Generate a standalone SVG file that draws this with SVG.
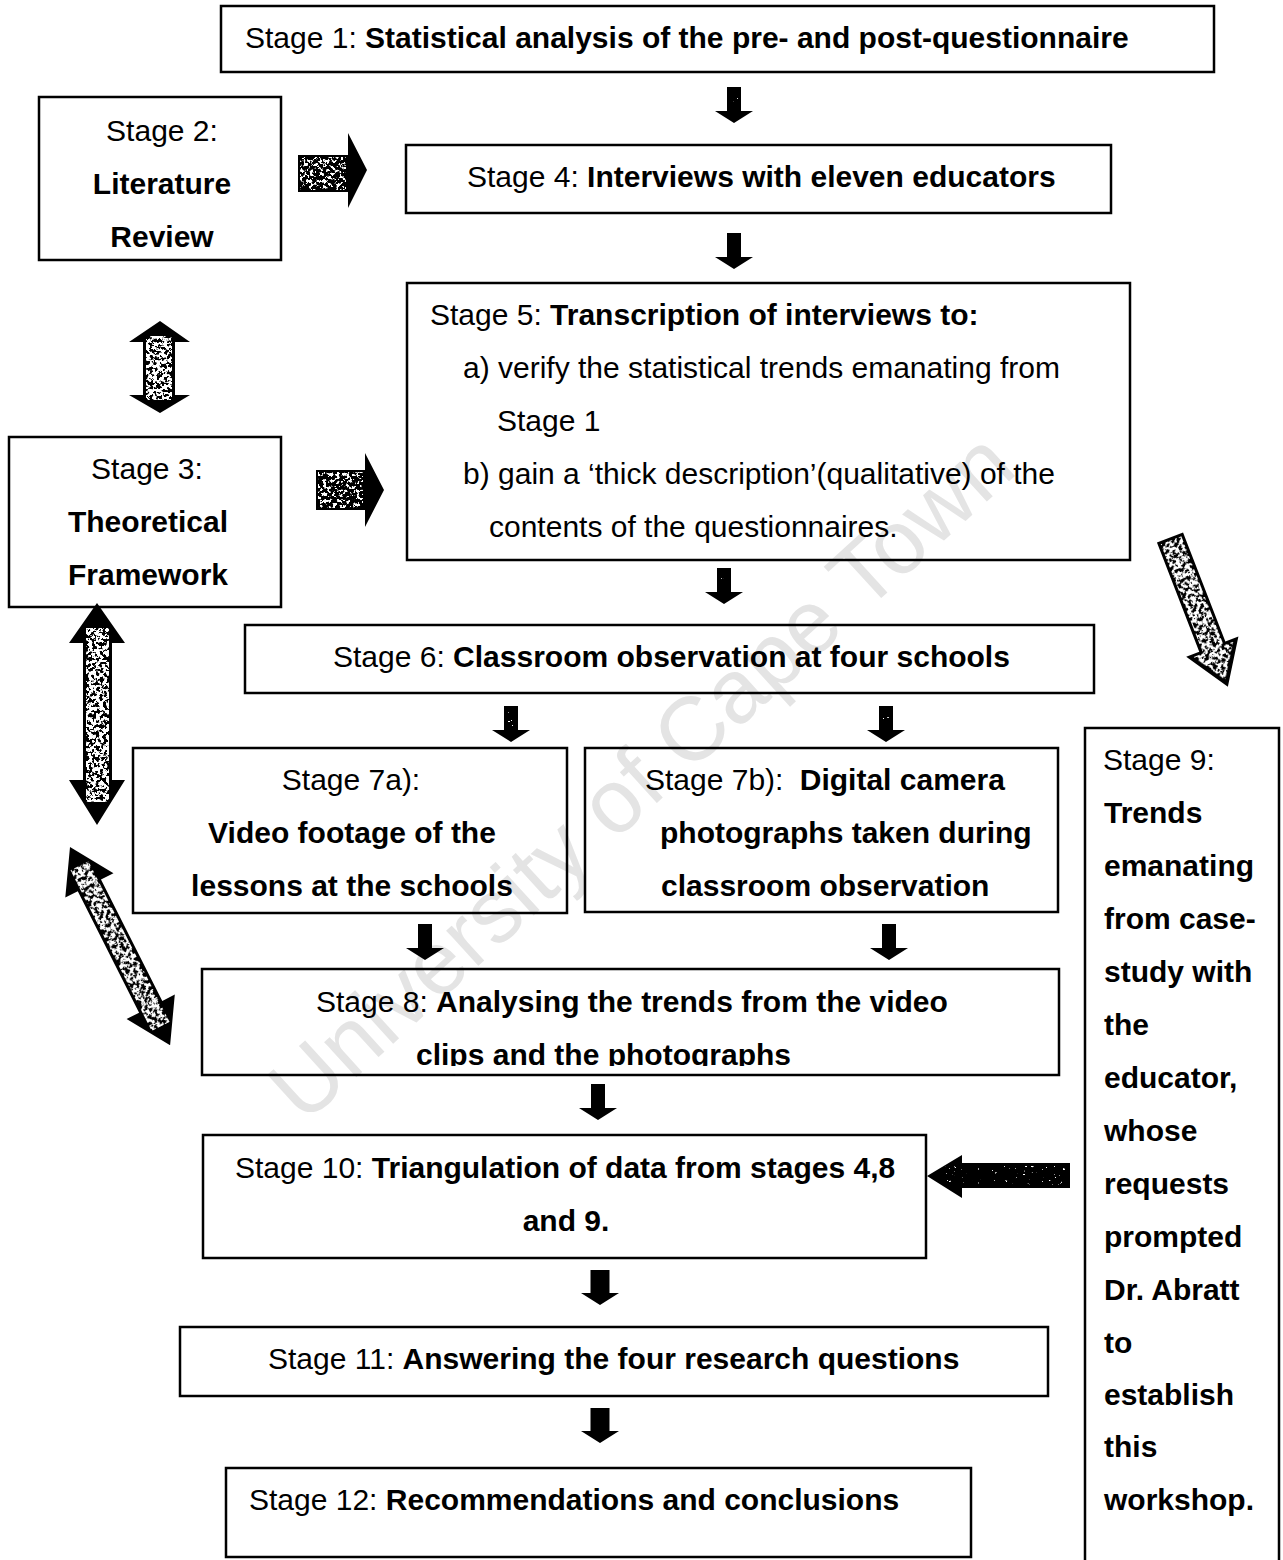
<svg xmlns="http://www.w3.org/2000/svg" xmlns:xlink="http://www.w3.org/1999/xlink" width="1283" height="1560" viewBox="0 0 1283 1560">
  <style>
    .box { fill: none; stroke: #000; stroke-width: 2.5; }
    .t { font-family: "Liberation Sans", Arial, sans-serif; font-size: 30px; fill: #000; }
    .c { text-anchor: middle; }
    .b { font-weight: bold; }
    .arrow { fill: #000; }
    .wm { font-family: "Liberation Sans", Arial, sans-serif; font-size: 90px; fill: #e4e4e4; text-anchor: middle; }
  </style>
  <defs>
    <!-- dense white speckle kept inside an eroded copy of the shape -->
    <filter id="grainLight" x="-10%" y="-10%" width="120%" height="120%">
      <feMorphology in="SourceAlpha" operator="erode" radius="3" result="core"/>
      <feTurbulence type="fractalNoise" baseFrequency="0.28" numOctaves="3" seed="7" result="noise"/>
      <feColorMatrix in="noise" type="matrix" values="0 0 0 0 1  0 0 0 0 1  0 0 0 0 1  16 0 0 0 -7.2" result="spots"/>
      <feComposite in="spots" in2="core" operator="in"/>
    </filter>
    <!-- medium speckle -->
    <filter id="grainMid" x="-10%" y="-10%" width="120%" height="120%">
      <feMorphology in="SourceAlpha" operator="erode" radius="2" result="core"/>
      <feTurbulence type="fractalNoise" baseFrequency="0.3" numOctaves="3" seed="11" result="noise"/>
      <feColorMatrix in="noise" type="matrix" values="0 0 0 0 1  0 0 0 0 1  0 0 0 0 1  16 0 0 0 -8.6" result="spots"/>
      <feComposite in="spots" in2="core" operator="in"/>
    </filter>
    <!-- sparse speckle for the mostly black arrows -->
    <filter id="grainDark" x="-10%" y="-10%" width="120%" height="120%">
      <feMorphology in="SourceAlpha" operator="erode" radius="3" result="core"/>
      <feTurbulence type="fractalNoise" baseFrequency="0.35" numOctaves="2" seed="3" result="noise"/>
      <feColorMatrix in="noise" type="matrix" values="0 0 0 0 1  0 0 0 0 1  0 0 0 0 1  16 0 0 0 -11.6" result="spots"/>
      <feComposite in="spots" in2="core" operator="in"/>
    </filter>
    <path id="down" d="M-7,0 H7 V24 H19 L0,36 L-19,24 H-7 Z"/>
    <path id="downBig" d="M-9.5,0 H9.5 V23 H19 L0,35 L-19,23 H-9.5 Z"/>
    <clipPath id="clip8">
      <rect x="202" y="969" width="857" height="97"/>
    </clipPath>
  </defs>

  <rect x="0" y="0" width="1283" height="1560" fill="#fff"/>

  <!-- watermark -->
  <text class="wm" transform="translate(640,775) rotate(-42.4)" x="0" y="32">University of Cape Town</text>

  <!-- connectors -->
  <g id="connectors">
    <!-- small down arrows between stages -->
    <g class="arrow">
      <use xlink:href="#down" x="734" y="87"/>
      <use xlink:href="#down" x="734" y="233"/>
      <use xlink:href="#down" x="724" y="568"/>
      <use xlink:href="#down" x="511" y="706"/>
      <use xlink:href="#down" x="886" y="706"/>
      <use xlink:href="#down" x="425" y="924"/>
      <use xlink:href="#down" x="889" y="924"/>
      <use xlink:href="#down" x="598" y="1084"/>
      <use xlink:href="#downBig" x="600" y="1270"/>
      <use xlink:href="#downBig" x="600" y="1408"/>
    </g>
    <g filter="url(#grainDark)">
      <rect x="727" y="90" width="14" height="20"/>
      <rect x="717" y="571" width="14" height="20"/>
      <rect x="504" y="709" width="14" height="20"/>
      <rect x="879" y="709" width="14" height="20"/>
      <rect x="418" y="927" width="14" height="20"/>
    </g>

    <!-- Literature review -> Stage 4 -->
    <path id="arrowLit" class="arrow" d="M298,155 H348 V133 L367,170 L348,208 V192 H298 Z"/>
    <rect x="298" y="155" width="50" height="37" filter="url(#grainMid)"/>
    <!-- Theoretical framework -> Stage 5 -->
    <path id="arrowTheo" class="arrow" d="M316,470 H365 V453 L384,490 L365,527 V510 H316 Z"/>
    <rect x="316" y="470" width="49" height="40" filter="url(#grainMid)"/>

    <!-- Stage 2 <-> Stage 3 -->
    <path id="arrowLitTheo" class="arrow" d="M160,321 L190,342 H175 V395 H190 L160,413 L129,395 H143 V342 H129 Z"/>
    <rect x="143" y="333" width="32" height="70" filter="url(#grainLight)"/>

    <!-- Stage 3 <-> Stage 7a -->
    <path id="arrowTheo7" class="arrow" d="M97,603 L125,643 H112 V780 H125 L97,825 L69,780 H83 V643 H69 Z"/>
    <rect x="83" y="625" width="29" height="180" filter="url(#grainLight)"/>

    <!-- Stage 3 <-> Stage 8 (diagonal) -->
    <g transform="translate(70,847) rotate(63.2)">
      <path class="arrow" d="M0,0 L43,-27 L43,-13 L179,-13 L179,-27 L222,0 L179,27 L179,13 L43,13 L43,27 Z"/>
      <rect x="18" y="-13" width="186" height="26" filter="url(#grainLight)"/>
    </g>

    <!-- Stage 5 -> Stage 9 (diagonal) -->
    <g transform="translate(1170,537.5) rotate(68.8)">
      <path class="arrow" d="M0,-14 L117,-14 L117,-28 L160,0 L117,28 L117,14 L0,14 Z"/>
      <path d="M0,-14 L117,-14 L117,-28 L160,0 L117,28 L117,14 L0,14 Z" filter="url(#grainLight)"/>
    </g>

    <!-- Stage 9 -> Stage 10 -->
    <path id="arrow910" class="arrow" d="M927,1176 L962,1155 V1163 H1070 V1188 H962 V1198 Z"/>
    <rect x="940" y="1163" width="130" height="25" filter="url(#grainDark)"/>
  </g>

  <!-- nodes -->
  <g id="stage1">
    <rect class="box" x="221" y="6" width="993" height="66"/>
    <text class="t" x="245" y="48">Stage 1: <tspan class="b">Statistical analysis of the pre- and post-questionnaire</tspan></text>
  </g>

  <g id="stage2">
    <rect class="box" x="39" y="97" width="242" height="163"/>
    <text class="t c" x="162" y="141">Stage 2:</text>
    <text class="t c b" x="162" y="194">Literature</text>
    <text class="t c b" x="162" y="247">Review</text>
  </g>

  <g id="stage3">
    <rect class="box" x="9" y="437" width="272" height="170"/>
    <text class="t c" x="147" y="479">Stage 3:</text>
    <text class="t c b" x="148" y="532">Theoretical</text>
    <text class="t c b" x="148" y="585">Framework</text>
  </g>

  <g id="stage4">
    <rect class="box" x="406" y="145" width="705" height="68"/>
    <text class="t" x="467" y="187">Stage 4: <tspan class="b">Interviews with eleven educators</tspan></text>
  </g>

  <g id="stage5">
    <rect class="box" x="407" y="283" width="723" height="277"/>
    <text class="t" x="430" y="325">Stage 5: <tspan class="b">Transcription of interviews to:</tspan></text>
    <text class="t" x="463" y="378">a) verify the statistical trends emanating from</text>
    <text class="t" x="497" y="431">Stage 1</text>
    <text class="t" x="463" y="484">b) gain a ‘thick description’(qualitative) of the</text>
    <text class="t" x="489" y="537">contents of the questionnaires.</text>
  </g>

  <g id="stage6">
    <rect class="box" x="245" y="625" width="849" height="68"/>
    <text class="t" x="333" y="667">Stage 6: <tspan class="b">Classroom observation at four schools</tspan></text>
  </g>

  <g id="stage7a">
    <rect class="box" x="133" y="748" width="434" height="165"/>
    <text class="t c" x="351" y="790">Stage 7a):</text>
    <text class="t c b" x="352" y="843">Video footage of the</text>
    <text class="t c b" x="352" y="896">lessons at the schools</text>
  </g>

  <g id="stage7b">
    <rect class="box" x="585" y="748" width="473" height="164"/>
    <text class="t" x="645" y="790">Stage 7b): <tspan class="b" dx="8">Digital camera</tspan></text>
    <text class="t b" x="660" y="843">photographs taken during</text>
    <text class="t b" x="661" y="896">classroom observation</text>
  </g>

  <g id="stage8">
    <rect class="box" x="202" y="969" width="857" height="106"/>
    <g clip-path="url(#clip8)">
      <text class="t" x="316" y="1012">Stage 8: <tspan class="b">Analysing the trends from the video</tspan></text>
      <text class="t b" x="416" y="1065">clips and the photographs</text>
    </g>
  </g>

  <g id="stage9">
    <rect class="box" x="1085" y="728" width="194" height="850"/>
    <text class="t" x="1103" y="770">Stage 9:</text>
    <text class="t b" x="1104" y="823">Trends</text>
    <text class="t b" x="1104" y="876">emanating</text>
    <text class="t b" x="1104" y="929">from case-</text>
    <text class="t b" x="1104" y="982">study with</text>
    <text class="t b" x="1104" y="1035">the</text>
    <text class="t b" x="1104" y="1088">educator,</text>
    <text class="t b" x="1104" y="1141">whose</text>
    <text class="t b" x="1104" y="1194">requests</text>
    <text class="t b" x="1104" y="1247">prompted</text>
    <text class="t b" x="1104" y="1300">Dr. Abratt</text>
    <text class="t b" x="1104" y="1353">to</text>
    <text class="t b" x="1104" y="1405">establish</text>
    <text class="t b" x="1104" y="1457">this</text>
    <text class="t b" x="1104" y="1510">workshop.</text>
  </g>

  <g id="stage10">
    <rect class="box" x="203" y="1135" width="723" height="123"/>
    <text class="t" x="235" y="1178">Stage 10: <tspan class="b">Triangulation of data from stages 4,8</tspan></text>
    <text class="t c b" x="566" y="1231">and 9.</text>
  </g>

  <g id="stage11">
    <rect class="box" x="180" y="1327" width="868" height="69"/>
    <text class="t" x="268" y="1369">Stage 11: <tspan class="b">Answering the four research questions</tspan></text>
  </g>

  <g id="stage12">
    <rect class="box" x="226" y="1468" width="745" height="89"/>
    <text class="t" x="249" y="1510">Stage 12: <tspan class="b">Recommendations and conclusions</tspan></text>
  </g>
</svg>
